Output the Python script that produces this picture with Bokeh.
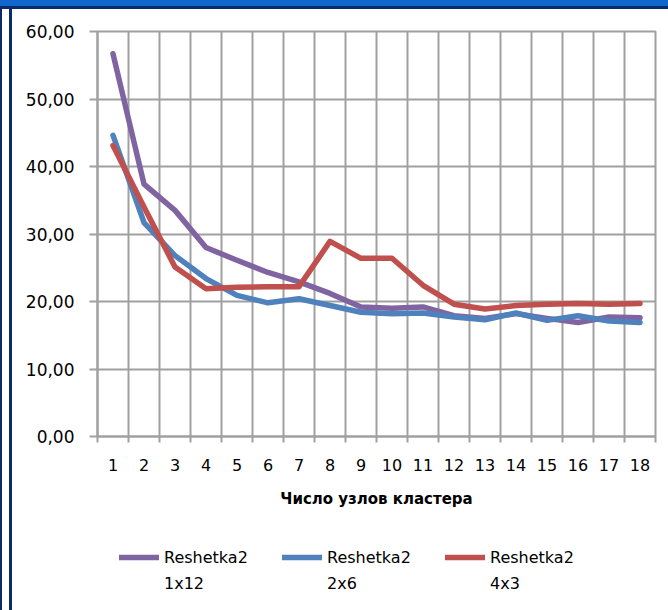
from bokeh.plotting import figure
from bokeh.models import FixedTicker, Legend, LegendItem, Div
from bokeh.layouts import column, row
from bokeh.embed import file_html
from bokeh.resources import INLINE

nodes = list(range(1, 19))
series_names = ["Reshetka2", "Reshetka2", "Reshetka2"]
series_sub = ["1x12", "2x6", "4x3"]
s_1x12 = [56.7, 37.4, 33.5, 28.0, 26.1, 24.3, 22.9, 21.2, 19.2, 19.0, 19.2, 17.9, 17.5, 18.2, 17.5, 16.9, 17.7, 17.6]
s_2x6 = [44.6, 31.7, 26.8, 23.4, 20.9, 19.8, 20.4, 19.4, 18.4, 18.2, 18.3, 17.7, 17.3, 18.3, 17.2, 17.9, 17.1, 16.9]
s_4x3 = [43.1, 34.0, 25.1, 21.9, 22.1, 22.2, 22.2, 28.9, 26.4, 26.4, 22.4, 19.6, 18.9, 19.4, 19.6, 19.7, 19.6, 19.7]
colors = ["#8064A2", "#4F81BD", "#C0504D"]
y_ticks = [0, 10, 20, 30, 40, 50, 60]
y_tick_labels = ["0,00", "10,00", "20,00", "30,00", "40,00", "50,00", "60,00"]
x_title = "Число узлов кластера"

FONT = "DejaVu Sans"
GRID = "#a0a0a0"
NAVY = "#0b2a6b"
LW = 5.5

p = figure(width=656, height=511, x_range=(0.5, 18.5), y_range=(0, 60),
           output_backend="svg", toolbar_location=None, margin=0,
           min_border_left=85, min_border_right=13, min_border_top=22, min_border_bottom=84)
p.background_fill_color = "white"
p.border_fill_color = "white"
p.outline_line_color = GRID
p.outline_line_width = 2

series = [s_1x12, s_2x6, s_4x3]
for ys, c in zip(series, colors):
    p.line(nodes, ys, line_color=c, line_width=LW, line_join="round", line_cap="round")

# y axis
yax = p.yaxis[0]
yax.ticker = FixedTicker(ticks=y_ticks, minor_ticks=[])
yax.major_label_overrides = {t: l for t, l in zip(y_ticks, y_tick_labels)}
yax.axis_line_color = GRID
yax.axis_line_width = 2
yax.major_tick_line_color = GRID
yax.major_tick_line_width = 2
yax.major_tick_out = 8
yax.major_tick_in = 0
yax.minor_tick_line_color = None
yax.major_label_standoff = 15
yax.major_label_text_font = FONT
yax.major_label_text_font_size = "17px"
yax.major_label_text_color = "#000000"

# x axis
half = [i + 0.5 for i in range(0, 19)]
xax = p.xaxis[0]
xax.ticker = FixedTicker(ticks=nodes, minor_ticks=half)
xax.axis_line_color = GRID
xax.axis_line_width = 2
xax.major_tick_line_color = None
xax.major_tick_out = 0
xax.major_tick_in = 0
xax.minor_tick_line_color = GRID
xax.minor_tick_line_width = 2
xax.minor_tick_out = 6
xax.minor_tick_in = 0
xax.major_label_standoff = 16
xax.major_label_text_font = FONT
xax.major_label_text_font_size = "16px"
xax.major_label_text_color = "#000000"
xax.axis_label = x_title
xax.axis_label_text_font = FONT
xax.axis_label_text_font_size = "15px"
xax.axis_label_text_font_style = "bold"
xax.axis_label_text_color = "#000000"
xax.axis_label_standoff = 16

p.xgrid.ticker = FixedTicker(ticks=[i + 0.5 for i in range(1, 18)])
p.xgrid.grid_line_color = GRID
p.xgrid.grid_line_width = 2
p.ygrid.ticker = FixedTicker(ticks=y_ticks[1:-1])
p.ygrid.grid_line_color = GRID
p.ygrid.grid_line_width = 2

# legend strip below the chart (proxy lines kept outside its visible range)
lp = figure(width=656, height=90, x_range=(100, 101), y_range=(100, 101),
            output_backend="svg", toolbar_location=None, margin=0,
            min_border=0, min_border_left=0, min_border_right=0, min_border_top=0, min_border_bottom=0)
lp.axis.visible = False
lp.grid.visible = False
lp.outline_line_color = None
lp.background_fill_color = "white"
lp.border_fill_color = "white"
lrs = [lp.line(nodes, ys, line_color=c, line_width=LW, line_cap="round")
       for ys, c in zip(series, colors)]
hidden = [lp.line(nodes, ys, line_color=c, line_alpha=0) for ys, c in zip(series, colors)]


def make_legend(labels, rends, loc):
    lg = Legend(items=[LegendItem(label=n, renderers=[r]) for n, r in zip(labels, rends)],
                orientation="horizontal", location=loc)
    lg.border_line_color = None
    lg.background_fill_alpha = 0
    lg.padding = 0
    lg.margin = 0
    lg.spacing = 23
    lg.glyph_width = 40
    lg.glyph_height = 20
    lg.label_width = 95
    lg.label_standoff = 5
    lg.label_text_font = FONT
    lg.label_text_font_size = "16px"
    lg.label_text_color = "#000000"
    lg.label_text_baseline = "top"
    return lg


lp.add_layout(make_legend(series_names, lrs, (22, 43)), "center")
lp.add_layout(make_legend(series_sub, hidden, (22, 17)), "center")

top_band = Div(text="", width=668, height=9, margin=0,
               styles={"background": "linear-gradient(to bottom, #1166cc 0px, #1166cc 6px, %s 6px, %s 9px)" % (NAVY, NAVY)})
left_band = Div(text="", width=12, height=601, margin=0,
                styles={"background": "linear-gradient(to right, %s 0px, %s 2px, #ffffff 2px, #ffffff 9px, %s 9px, %s 12px)" % (NAVY, NAVY, NAVY, NAVY)})

layout = column(top_band, row(left_band, column(p, lp, spacing=0, margin=0), spacing=0, margin=0),
                spacing=0, margin=0)

open("out.html", "w").write(file_html(layout, INLINE))
